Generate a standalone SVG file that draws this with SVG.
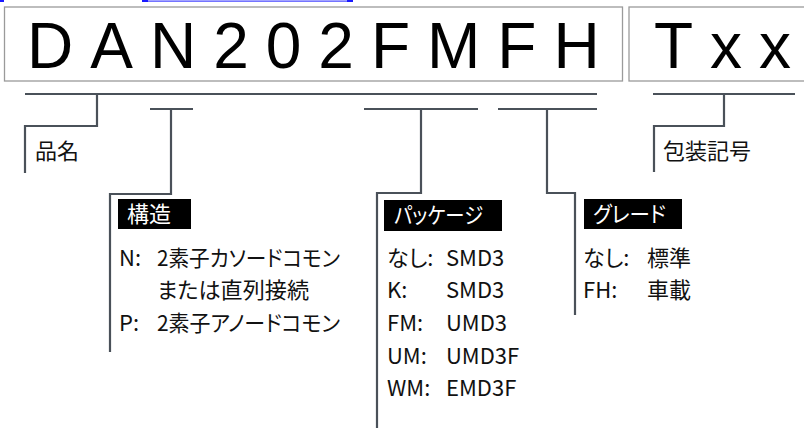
<svg xmlns="http://www.w3.org/2000/svg" width="804" height="428" viewBox="0 0 804 428">
  <style>
    .box { fill: #ffffff; stroke: #9a9a9a; stroke-width: 1.3; }
    .big { font-family: "Liberation Sans", Arial, sans-serif; font-size: 64px; fill: #000000; }
    .sp { letter-spacing: 17px; }
    .t { font-family: "Noto Sans CJK JP", "DejaVu Sans", sans-serif; font-size: 22px; fill: #111111; font-feature-settings: "palt"; }
    .hd { font-family: "Noto Sans CJK JP", "DejaVu Sans", sans-serif; font-size: 22px; fill: #ffffff; font-feature-settings: "palt"; }
    .hdbox { fill: #000000; }
    .conn { fill: none; stroke: #4a5159; stroke-width: 2.2; }
    .blue { fill: #1a1aff; }
  </style>

  <g id="page-marks">
    <rect class="blue" x="0" y="0" width="4" height="2"/>
    <rect class="blue" x="142" y="0" width="6" height="2"/>
    <rect class="blue" x="347" y="0" width="6" height="2"/>
    <rect class="blue" x="148" y="0.6" width="199" height="1"/>
  </g>

  <g id="part-number">
    <rect class="box" x="4.5" y="7" width="618" height="74"/>
    <text class="big sp" x="27" y="68">DAN202FMFH</text>
  </g>

  <g id="packing-suffix">
    <rect class="box" x="629" y="7" width="190" height="74"/>
    <text class="big" x="654 710 759" y="68">Txx</text>
  </g>

  <g id="connectors">
    <line class="conn" x1="25" y1="94" x2="597" y2="94"/>
    <line class="conn" x1="653" y1="94" x2="795" y2="94"/>
    <line class="conn" x1="150" y1="109" x2="193" y2="109"/>
    <line class="conn" x1="364" y1="109" x2="478" y2="109"/>
    <line class="conn" x1="498" y1="109" x2="597" y2="109"/>
    <path class="conn" d="M97,94 V126 H25 V173"/>
    <path class="conn" d="M171,109 V194 H110 V352"/>
    <path class="conn" d="M421,109 V193 H377 V428"/>
    <path class="conn" d="M547,109 V193 H575 V315"/>
    <path class="conn" d="M724,94 V126 H654 V172"/>
  </g>

  <g id="label-hinmei">
    <text class="t" x="35" y="159">品名</text>
  </g>

  <g id="label-housou">
    <text class="t" x="663" y="159">包装記号</text>
  </g>

  <g id="label-kouzou">
    <rect class="hdbox" x="118" y="199" width="73" height="30"/>
    <text class="hd" x="127" y="222">構造</text>
    <text class="t" x="119" y="266">N:</text>
    <text class="t" x="157" y="266" textLength="183" lengthAdjust="spacingAndGlyphs">2素子カソードコモン</text>
    <text class="t" x="157" y="298" textLength="152" lengthAdjust="spacingAndGlyphs">または直列接続</text>
    <text class="t" x="119" y="331">P:</text>
    <text class="t" x="157" y="331" textLength="183" lengthAdjust="spacingAndGlyphs">2素子アノードコモン</text>
  </g>

  <g id="label-package">
    <rect class="hdbox" x="384" y="200" width="118" height="31"/>
    <text class="hd" x="394" y="223" textLength="89" lengthAdjust="spacingAndGlyphs">パッケージ</text>
    <text class="t" x="387" y="266">なし:</text>
    <text class="t" x="446" y="266">SMD3</text>
    <text class="t" x="387" y="298">K:</text>
    <text class="t" x="446" y="298">SMD3</text>
    <text class="t" x="387" y="331">FM:</text>
    <text class="t" x="446" y="331">UMD3</text>
    <text class="t" x="387" y="364">UM:</text>
    <text class="t" x="446" y="364">UMD3F</text>
    <text class="t" x="387" y="396">WM:</text>
    <text class="t" x="446" y="396">EMD3F</text>
  </g>

  <g id="label-grade">
    <rect class="hdbox" x="584" y="199" width="98" height="30"/>
    <text class="hd" x="593" y="222" textLength="73" lengthAdjust="spacingAndGlyphs">グレード</text>
    <text class="t" x="583" y="266">なし:</text>
    <text class="t" x="647" y="266">標準</text>
    <text class="t" x="583" y="298">FH:</text>
    <text class="t" x="647" y="298">車載</text>
  </g>
</svg>
